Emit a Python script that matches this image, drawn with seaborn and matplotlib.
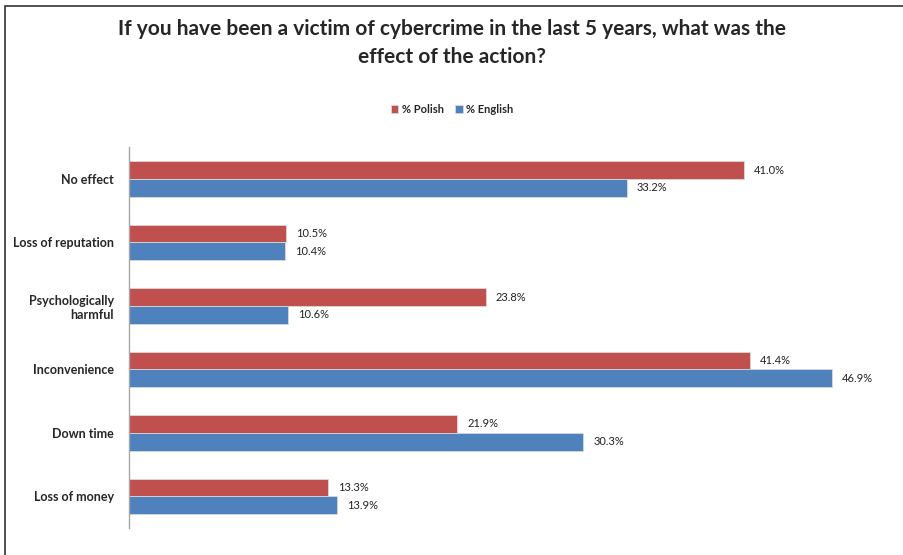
import matplotlib
matplotlib.use("Agg")
import matplotlib.pyplot as plt
import pandas as pd
import seaborn as sns

# survey answers
effects = ["No effect", "Loss of reputation", "Psychologically\nharmful",
           "Inconvenience", "Down time", "Loss of money"]
polish = [41.0, 10.5, 23.8, 41.4, 21.9, 13.3]
english = [33.2, 10.4, 10.6, 46.9, 30.3, 13.9]
groups = ["% Polish", "% English"]

df = pd.DataFrame({
    "effect": effects * 2,
    "value": polish + english,
    "group": [groups[0]] * len(effects) + [groups[1]] * len(effects),
})

sns.set_style("white")
plt.rcParams["font.family"] = ["Lato", "DejaVu Sans"]

fig = plt.figure(figsize=(9.04, 5.55), dpi=100)
ax = fig.add_axes([0.1427, 0.0486, 0.8296, 0.686])

sns.barplot(data=df, y="effect", x="value", hue="group", orient="h",
            palette=["#C0504D", "#4F81BD"], saturation=1, width=0.56, ax=ax,
            edgecolor="#d9d9d9", linewidth=0.6, legend=True)

for cont in ax.containers:
    ax.bar_label(cont, fmt="%.1f%%", padding=7, fontsize=8, color="#222222")

ax.set_xlim(0, 50)
ax.set_xlabel("")
ax.set_ylabel("")
ax.set_xticks([])
ax.tick_params(axis="y", length=0, pad=11)
for lab in ax.get_yticklabels():
    lab.set_fontweight("bold")
    lab.set_fontsize(9)
    lab.set_horizontalalignment("right")
for s in ["top", "right", "bottom"]:
    ax.spines[s].set_visible(False)
ax.spines["left"].set_color("#a6a6a6")
ax.spines["left"].set_linewidth(1)

leg = ax.legend(loc="center", bbox_to_anchor=(0.5, 0.803), bbox_transform=fig.transFigure,
                ncol=2, frameon=False, fontsize=8, handlelength=0.7, handleheight=0.7,
                columnspacing=1.0, handletextpad=0.3)
for t in leg.get_texts():
    t.set_fontweight("bold")

fig.text(0.5, 0.922, "If you have been a victim of cybercrime in the last 5 years, what was the\neffect of the action?",
         ha="center", va="center", fontsize=15, fontweight="bold", linespacing=1.5)

fig.patches.append(plt.Rectangle((0.006, -0.01), 1.2, 1.0, transform=fig.transFigure,
                                 fill=False, edgecolor="#333333", linewidth=1.2))

fig.savefig("out.png", dpi=100)
